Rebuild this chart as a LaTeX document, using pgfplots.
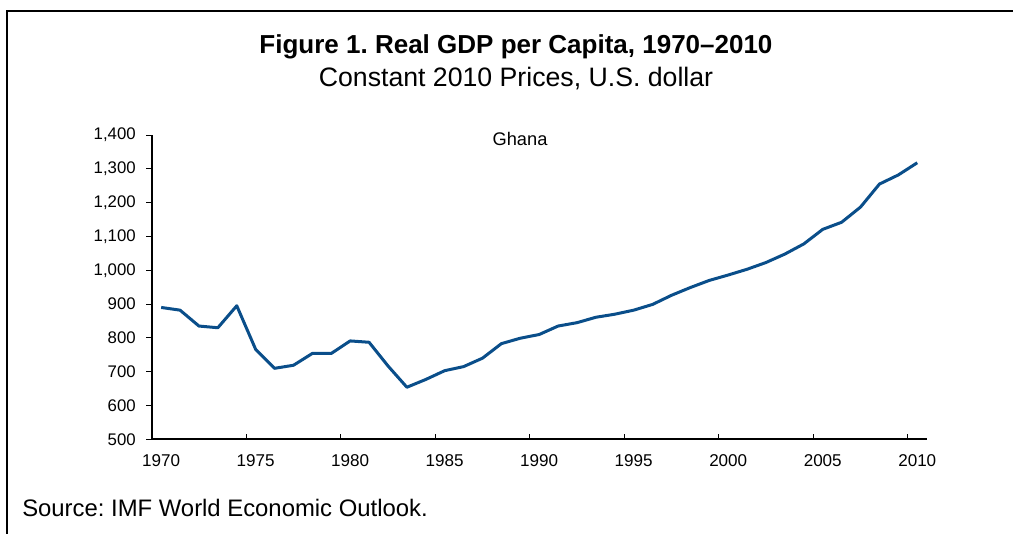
\documentclass[border=0pt]{standalone}
\usepackage{fontspec}
\setmainfont{Liberation Sans}
\usepackage{pgfplots}
\pgfplotsset{compat=1.18}
\definecolor{gdpblue}{RGB}{10,78,138}
\frenchspacing
\pgfplotstableread{
year value
1970 890
1971 882
1972 835
1973 830
1974 895
1975 766
1976 710
1977 719
1978 754
1979 754
1980 791
1981 787
1982 717
1983 654
1984 677
1985 703
1986 715
1987 740
1988 783
1989 799
1990 810
1991 835
1992 845
1993 861
1994 870
1995 882
1996 899
1997 926
1998 949
1999 970
2000 986
2001 1003
2002 1023
2003 1048
2004 1078
2005 1121
2006 1142
2007 1187
2008 1255
2009 1282
2010 1318
}\gdpdata
\begin{document}
\begin{tikzpicture}[x=0.75pt,y=0.75pt]
\path[use as bounding box] (0,0) rectangle (1013,533);
\draw[line width=1.7pt] (7,-2) -- (7,522) -- (1015,522);
\node[anchor=base,font=\fontsize{19.5}{23}\selectfont\bfseries] at (516,479) {Figure 1. Real GDP per Capita, 1970--2010};
\node[anchor=base,font=\fontsize{20}{23}\selectfont] at (516,446) {Constant 2010 Prices, U.S. dollar};
\node[anchor=base west,font=\fontsize{17.9}{22}\selectfont,inner sep=0pt] at (22,17) {Source: IMF World Economic Outlook.};
\node[font=\fontsize{13.7}{16}\selectfont] at (520,394) {Ghana};
\begin{axis}[
  at={(113.775pt,70.275pt)}, anchor=south west, scale only axis,
  width=581.25pt, height=228.2pt,
  xmin=1969.5, xmax=2010.5, ymin=500, ymax=1400,
  axis x line*=bottom, axis y line*=left,
  axis line style={line width=1.5pt, -},
  tick align=inside,
  major tick length=4pt,
  xtick={1969.5,1974.5,...,2009.5},
  xticklabels={1970,1975,1980,1985,1990,1995,2000,2005,2010},
  ytick={500,600,...,1400},
  xtick style={line width=0.75pt, black},
  ytick style={line width=0.75pt, black, xshift=-4pt},
  xticklabel style={anchor=north, inner sep=0pt, yshift=-11.3pt, xshift=7.09pt, font=\fontsize{12.8}{14}\selectfont},
  yticklabel style={anchor=east, inner sep=0pt, xshift=-11.8pt, font=\fontsize{12.6}{14}\selectfont, /pgf/number format/1000 sep={,}},
  /pgf/number format/assume math mode=true,
  clip=false,
]
\addplot[color=gdpblue, line width=2.25pt, line join=round] table[x=year, y=value] {\gdpdata};
\end{axis}
\end{tikzpicture}
\end{document}
